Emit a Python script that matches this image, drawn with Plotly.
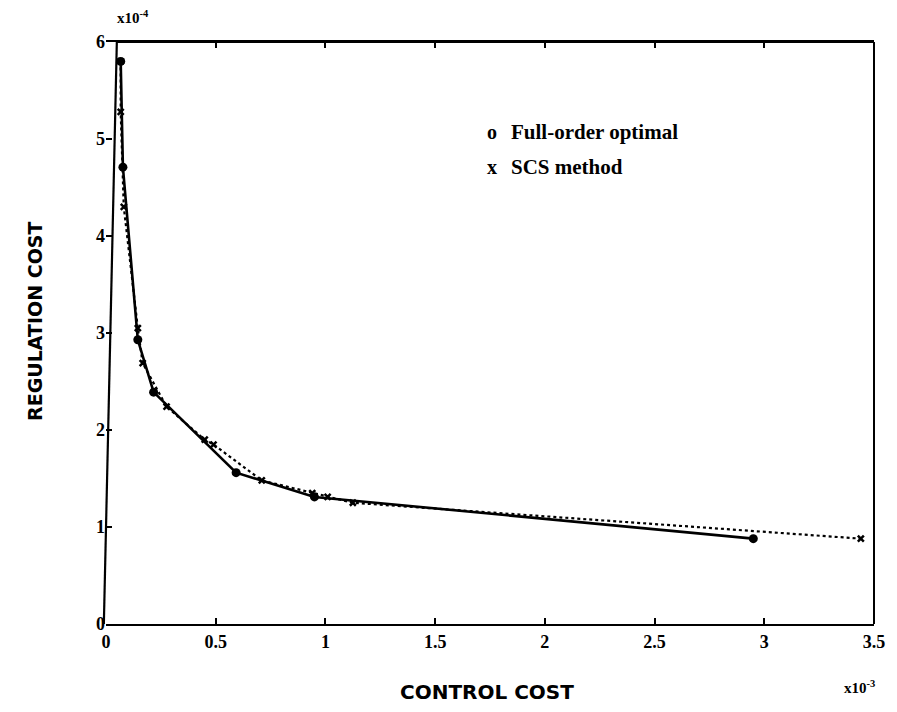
import plotly.graph_objects as go

# Data (x in units of 1e-3, y in units of 1e-4)
full_x = [0.067, 0.077, 0.145, 0.217, 0.593, 0.95, 2.95]
full_y = [5.80, 4.71, 2.93, 2.39, 1.56, 1.31, 0.88]

scs_x = [0.067, 0.067, 0.081, 0.145, 0.167, 0.276, 0.45, 0.49, 0.71, 0.94, 1.01, 1.125, 3.44]
scs_y = [5.80, 5.28, 4.30, 3.05, 2.69, 2.24, 1.90, 1.85, 1.48, 1.35, 1.31, 1.25, 0.88]

x_ticks = [0, 0.5, 1, 1.5, 2, 2.5, 3, 3.5]
x_tick_labels = ["0", "0.5", "1", "1.5", "2", "2.5", "3", "3.5"]
y_ticks = [0, 1, 2, 3, 4, 5, 6]
y_tick_labels = ["0", "1", "2", "3", "4", "5", "6"]

serif = "Liberation Serif"
sans = "DejaVu Sans"

fig = go.Figure()
fig.add_trace(go.Scatter(
    x=scs_x, y=scs_y, mode="lines+markers",
    line=dict(color="black", width=2.2, dash="dot"),
    marker=dict(symbol="x-thin", size=6, line=dict(color="black", width=2.5), color="black"),
    showlegend=False, cliponaxis=False))
fig.add_trace(go.Scatter(
    x=full_x, y=full_y, mode="lines+markers",
    line=dict(color="black", width=2.6),
    marker=dict(symbol="circle", size=9, color="black"),
    showlegend=False, cliponaxis=False))

fig.update_layout(
    width=889, height=704,
    margin=dict(l=98, r=17, t=34, b=88),
    plot_bgcolor="white", paper_bgcolor="white",
    font=dict(family=serif, color="black", size=15),
    xaxis=dict(range=[0, 3.5], tickvals=x_ticks, ticktext=x_tick_labels,
               ticks="inside", ticklen=6, tickwidth=2, tickcolor="black",
               showline=True, linecolor="black", linewidth=2, mirror="ticks",
               showgrid=False, zeroline=False,
               tickfont=dict(family=serif, size=18, color="black", weight="bold")),
    yaxis=dict(range=[0, 6], tickvals=y_ticks, ticktext=y_tick_labels,
               ticks="inside", ticklen=6, tickwidth=2, tickcolor="black",
               showline=False, showgrid=False, zeroline=False,
               tickfont=dict(family=serif, size=18, color="black", weight="bold")),
)

# frame: right and top edges straight, left edge slightly skewed as in scan
fig.add_shape(type="line", xref="paper", yref="paper", x0=1, y0=0, x1=1, y1=1,
              line=dict(color="black", width=2))
fig.add_shape(type="line", xref="paper", yref="paper", x0=0.0141, y0=1, x1=1, y1=1,
              line=dict(color="black", width=2))
fig.add_shape(type="line", xref="paper", yref="paper", x0=-0.0028, y0=0, x1=0.0141, y1=1,
              line=dict(color="black", width=2.2))

ann = [
    dict(text="<b>x10<sup>-4</sup></b>", x=0.012, y=1.0, xref="paper", yref="paper",
         xanchor="left", yanchor="bottom", yshift=14, font=dict(family=serif, size=15)),
    dict(text="<b>x10<sup>-3</sup></b>", x=1.004, y=0, xref="paper", yref="paper",
         xanchor="right", yanchor="top", yshift=-52, font=dict(family=serif, size=15)),
    dict(text="<b>CONTROL COST</b>", x=0.496, y=0, xref="paper", yref="paper",
         xanchor="center", yanchor="top", yshift=-54, font=dict(family=sans, size=20)),
    dict(text="<b>REGULATION COST</b>", x=0, y=0.519, xref="paper", yref="paper",
         xanchor="center", yanchor="middle", xshift=-71, textangle=-90,
         font=dict(family=sans, size=19)),
    dict(text="<b>o</b>", x=0.494, y=0.845, xref="paper", yref="paper",
         xanchor="left", yanchor="middle", font=dict(family=serif, size=20)),
    dict(text="<b>Full-order optimal</b>", x=0.525, y=0.845, xref="paper", yref="paper",
         xanchor="left", yanchor="middle", font=dict(family=serif, size=21)),
    dict(text="<b>x</b>", x=0.494, y=0.785, xref="paper", yref="paper",
         xanchor="left", yanchor="middle", font=dict(family=serif, size=20)),
    dict(text="<b>SCS method</b>", x=0.525, y=0.785, xref="paper", yref="paper",
         xanchor="left", yanchor="middle", font=dict(family=serif, size=21)),
]
for a in ann:
    a["showarrow"] = False
    fig.add_annotation(**a)

fig.write_html("out.html")
